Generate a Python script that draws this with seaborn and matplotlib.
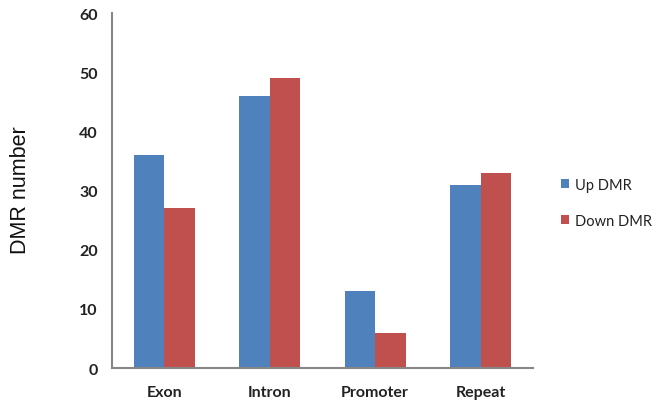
import matplotlib
matplotlib.use("Agg")
import matplotlib.pyplot as plt
import seaborn as sns
import pandas as pd

categories = ["Exon", "Intron", "Promoter", "Repeat"]
up_dmr = [36, 46, 13, 31]
down_dmr = [27, 49, 6, 33]
series_names = ["Up DMR", "Down DMR"]
y_ticks = [0, 10, 20, 30, 40, 50, 60]

df = pd.DataFrame({
    "Region": categories * 2,
    "Count": up_dmr + down_dmr,
    "Type": [series_names[0]] * len(categories) + [series_names[1]] * len(categories),
})

sns.set_theme(style="white")
plt.rcParams["font.family"] = ["Lato", "DejaVu Sans"]

fig = plt.figure(figsize=(6.6, 4.02), dpi=100)
ax = fig.add_axes([0.169, 0.082, 0.639, 0.882])

sns.barplot(data=df, x="Region", y="Count", hue="Type", order=categories,
            hue_order=series_names, palette=["#4F81BD", "#C0504D"],
            width=0.58, saturation=1, edgecolor="none", ax=ax)

ax.set_xlim(-0.5, len(categories) - 0.5)
ax.set_ylim(0, 60)
ax.set_yticks(y_ticks)
ax.set_yticklabels([str(t) for t in y_ticks], fontsize=11.5, fontweight="bold", color="#222222")
ax.set_xticks(range(len(categories)))
ax.set_xticklabels(categories, fontsize=11.5, fontweight="bold", color="#222222")
ax.set_xticks([i - 0.5 for i in range(len(categories) + 1)], minor=True)
ax.tick_params(axis="x", which="major", length=0, pad=12)
ax.tick_params(axis="x", which="minor", length=5, width=1.5, color="#868686", direction="out")
ax.tick_params(axis="y", which="major", length=5, width=1.5, color="#868686", direction="out", pad=5)
ax.set_xlabel("")
ax.set_ylabel("")

for side in ["top", "right"]:
    ax.spines[side].set_visible(False)
for side in ["left", "bottom"]:
    ax.spines[side].set_color("#868686")
    ax.spines[side].set_linewidth(1.5)

fig.text(21 / 660, 1 - 190 / 402, "DMR number", rotation=90, ha="center", va="center",
         fontsize=15.5, color="#111111", family=["Liberation Sans", "DejaVu Sans"])

leg = ax.legend(loc="upper left", bbox_to_anchor=(0.846, 0.562), bbox_transform=fig.transFigure,
                frameon=False, fontsize=10.5, handlelength=0.55, handleheight=0.55,
                handletextpad=0.4, labelspacing=1.5, borderaxespad=0, borderpad=0.2)
for t in leg.get_texts():
    t.set_color("#222222")

fig.savefig("out.png", dpi=100)
